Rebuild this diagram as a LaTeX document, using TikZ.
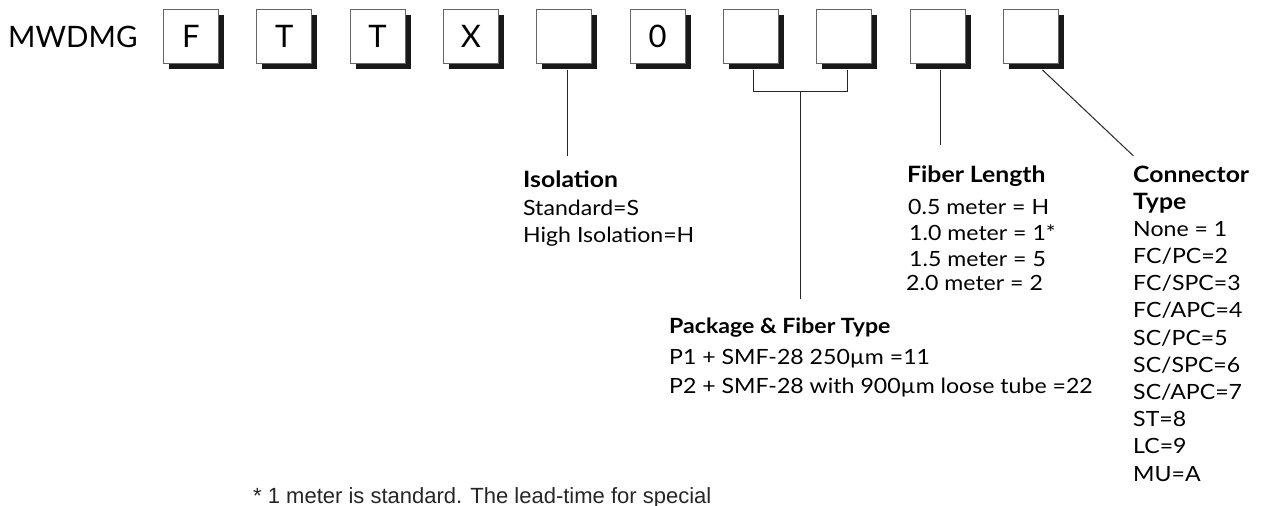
\documentclass[tikz,border=0pt]{standalone}
\usepackage{fontspec}
\setmainfont{Lato}[FakeStretch=1.1]
\newfontfamily\codefont{Lato}
\newfontfamily\notefont{Liberation Sans}
\usetikzlibrary{calc,positioning}

\tikzset{
  codebox/.style={draw=black!60,line width=0.9pt,fill=white,minimum width=55pt,
                  minimum height=54pt,inner sep=0pt,anchor=north west,
                  font=\codefont\fontsize{31}{31}\selectfont},
  boxshadow/.style={fill=black!90},
  keytitle/.style={anchor=base west,inner sep=0pt,font=\bfseries\fontsize{22.5}{26}\selectfont},
  keyline/.style={anchor=base west,inner sep=0pt,font=\fontsize{21}{25}\selectfont},
  lead/.style={draw=black!85,line width=1pt}
}

\begin{document}
\begin{tikzpicture}[x=1pt,y=-1pt]
    \useasboundingbox (0,0) rectangle (1270,506);
    \node[anchor=base west,inner sep=0pt,font=\codefont\fontsize{29.5}{30}\selectfont] (prefix) at (8,47) {MWDMG};
    \foreach \i/\c in {1/F,2/T,3/T,4/X,5/{},6/0,7/{},8/{},9/{},10/{}}{
        \fill[boxshadow] ({163+93.33*(\i-1)+6},15) rectangle +(55,54);
        \node[codebox] (b\i) at ({163+93.33*(\i-1)},9) {\c};
    }
    \coordinate (pkgmid) at ($(b7.south)!.5!(b8.south)$);
    \coordinate (isoend) at ($(b5.south)+(3,92)$);
    \coordinate (pkgend) at ($(pkgmid)+(3,235)$);
    \coordinate (lenend) at ($(b9.south)+(3,81)$);
    \coordinate (conend) at ($(b10.south)+(102.5,92)$);
    \draw[lead] ($(b5.south)+(3,6)$) -- (isoend);
    \draw[lead] ($(b7.south)+(3,6)$) |- ($(b8.south)+(3,28)$) -- ($(b8.south)+(3,6)$);
    \draw[lead] ($(pkgmid)+(3,28)$) -- (pkgend);
    \draw[lead] ($(b9.south)+(3,6)$) -- (lenend);
    \draw[lead] ($(b10.south)+(11.5,6)$) -- (conend);

    \node[keytitle] (iso) at (523,187) {Isolation};
    \node[keyline] (iso1) at (523,215) {Standard=S};
    \node[keyline] (iso2) at (523,242) {High Isolation=H};

    \node[keytitle] (len) at (907,182) {Fiber Length};
    \node[keyline] (len1) at (908,214) {0.5 meter = H};
    \node[keyline] (len2) at (909,240) {1.0 meter = 1*};
    \node[keyline] (len3) at (909,266) {1.5 meter = 5};
    \node[keyline] (len4) at (906,290) {2.0 meter = 2};

    \node[keytitle,font=\bfseries\fontsize{21}{25}\selectfont] (pkg) at (669,333) {Package \& Fiber Type};
    \node[keyline] (pkg1) at (669,364) {P1 + SMF-28 250µm =11};
    \node[keyline] (pkg2) at (669,393) {P2 + SMF-28 with 900µm loose tube =22};

    \node[keytitle] (con) at (1133,182) {Connector};
    \node[keytitle] (con0) at (1133,209) {Type};
    \foreach \t [count=\k] in {None = 1,FC/PC=2,FC/SPC=3,FC/APC=4,SC/PC=5,SC/SPC=6,SC/APC=7,ST=8,LC=9,MU=A}
        \node[keyline] (con\k) at (1133,{209+27.2*\k}) {\t};

    \node[anchor=base west,inner sep=0pt,font=\notefont\fontsize{22}{26}\selectfont,text=black!85] (note) at (253,503)
        {* 1 meter is standard. The lead-time for special};
\end{tikzpicture}
\end{document}
